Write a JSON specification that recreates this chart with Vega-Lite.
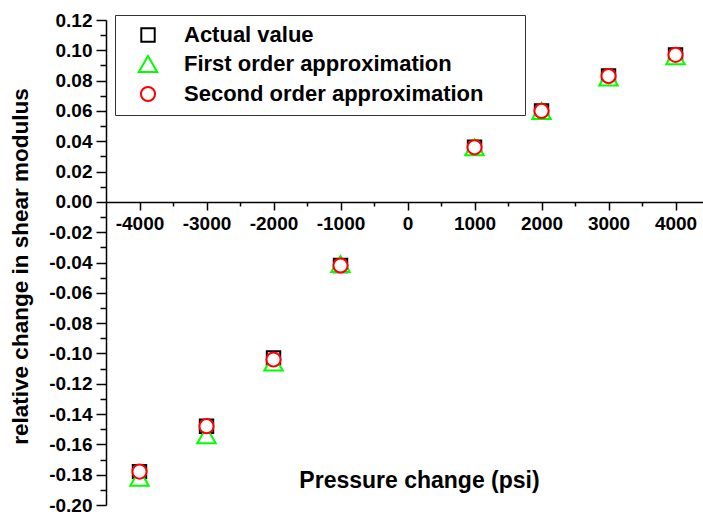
{
  "$schema": "https://vega.github.io/schema/vega-lite/v6.json",
  "width": 597,
  "height": 485,
  "autosize": "none",
  "padding": {"left": 106, "top": 20, "right": 0, "bottom": 11},
  "config": {
    "view": {"stroke": null},
    "font": "Liberation Sans",
    "locale": {"number": {"decimal": ".", "thousands": ",", "grouping": [3], "currency": ["$", ""], "minus": "-"}}
  },
  "data": {
    "values": [
      {"pressure": -4000, "series": "Actual value", "value": -0.178},
      {"pressure": -3000, "series": "Actual value", "value": -0.148},
      {"pressure": -2000, "series": "Actual value", "value": -0.103},
      {"pressure": -1000, "series": "Actual value", "value": -0.042},
      {"pressure": 1000, "series": "Actual value", "value": 0.036},
      {"pressure": 2000, "series": "Actual value", "value": 0.060},
      {"pressure": 3000, "series": "Actual value", "value": 0.083},
      {"pressure": 4000, "series": "Actual value", "value": 0.097},
      {"pressure": -4000, "series": "First order approximation", "value": -0.182},
      {"pressure": -3000, "series": "First order approximation", "value": -0.154},
      {"pressure": -2000, "series": "First order approximation", "value": -0.106},
      {"pressure": -1000, "series": "First order approximation", "value": -0.041},
      {"pressure": 1000, "series": "First order approximation", "value": 0.036},
      {"pressure": 2000, "series": "First order approximation", "value": 0.060},
      {"pressure": 3000, "series": "First order approximation", "value": 0.082},
      {"pressure": 4000, "series": "First order approximation", "value": 0.096},
      {"pressure": -4000, "series": "Second order approximation", "value": -0.178},
      {"pressure": -3000, "series": "Second order approximation", "value": -0.148},
      {"pressure": -2000, "series": "Second order approximation", "value": -0.104},
      {"pressure": -1000, "series": "Second order approximation", "value": -0.042},
      {"pressure": 1000, "series": "Second order approximation", "value": 0.036},
      {"pressure": 2000, "series": "Second order approximation", "value": 0.060},
      {"pressure": 3000, "series": "Second order approximation", "value": 0.083},
      {"pressure": 4000, "series": "Second order approximation", "value": 0.097}
    ]
  },
  "resolve": {"axis": {"x": "independent", "y": "independent"}},
  "layer": [
    {
      "mark": {"type": "point", "filled": false, "fill": "white", "strokeWidth": 2, "opacity": 1},
      "encoding": {
        "x": {
          "field": "pressure", "type": "quantitative",
          "scale": {"domain": [-4500, 4410], "nice": false, "zero": false},
          "axis": {
            "values": [-4000, -3000, -2000, -1000, 0, 1000, 2000, 3000, 4000],
            "format": "d", "offset": -303, "grid": false,
            "domainColor": "black", "domainWidth": 1.5,
            "tickColor": "black", "tickWidth": 1.5, "tickSize": 8,
            "labelFont": "Liberation Sans", "labelFontSize": 19, "labelFontWeight": "bold", "labelColor": "black",
            "labelPadding": 4, "labelFlush": false, "labelOverlap": false,
            "title": "Pressure change (psi)",
            "titleFont": "Liberation Sans", "titleFontSize": 23, "titleFontWeight": "bold", "titleColor": "black",
            "titleX": 313, "titleY": 285, "titleAlign": "center", "titleBaseline": "alphabetic"
          }
        },
        "y": {
          "field": "value", "type": "quantitative",
          "scale": {"domain": [-0.2, 0.12], "nice": false, "zero": false},
          "axis": {
            "values": [-0.2, -0.18, -0.16, -0.14, -0.12, -0.1, -0.08, -0.06, -0.04, -0.02, 0, 0.02, 0.04, 0.06, 0.08, 0.1, 0.12],
            "format": ".2f", "orient": "left", "grid": false,
            "domainColor": "black", "domainWidth": 1.5,
            "tickColor": "black", "tickWidth": 1.5, "tickSize": 10,
            "labelFont": "Liberation Sans", "labelFontSize": 19, "labelFontWeight": "bold", "labelColor": "black",
            "labelPadding": 4, "labelFlush": false, "labelOverlap": false,
            "title": "relative change in shear modulus",
            "titleFont": "Liberation Sans", "titleFontSize": 22.5, "titleFontWeight": "bold", "titleColor": "black",
            "titleX": -79, "titleY": 246, "titleAlign": "center", "titleBaseline": "alphabetic", "titleAngle": -90
          }
        },
        "shape": {
          "field": "series", "type": "nominal",
          "scale": {"domain": ["Actual value", "First order approximation", "Second order approximation"], "range": ["square", "triangle-up", "circle"]},
          "legend": {
            "orient": "none", "legendX": 9, "legendY": -5, "title": null,
            "strokeColor": "#333333", "padding": 9,
            "labelFont": "Liberation Sans", "labelFontSize": 22, "labelFontWeight": "bold", "labelColor": "black",
            "labelLimit": 600,
            "symbolOffset": 13, "labelOffset": 25, "rowPadding": 6, "symbolStrokeWidth": 2,
            "labelExpr": "datum.label + '\u2800\u2800'"
          }
        },
        "color": {
          "field": "series", "type": "nominal",
          "scale": {"domain": ["Actual value", "First order approximation", "Second order approximation"], "range": ["black", "#00ff00", "#ff0000"]},
          "legend": {
            "orient": "none", "legendX": 9, "legendY": -5, "title": null,
            "strokeColor": "#333333", "padding": 9,
            "labelFont": "Liberation Sans", "labelFontSize": 22, "labelFontWeight": "bold", "labelColor": "black",
            "labelLimit": 600,
            "symbolOffset": 13, "labelOffset": 25, "rowPadding": 6, "symbolStrokeWidth": 2,
            "labelExpr": "datum.label + '\u2800\u2800'"
          }
        },
        "size": {
          "field": "series", "type": "nominal",
          "scale": {"type": "ordinal", "domain": ["Actual value", "First order approximation", "Second order approximation"], "range": [180, 340, 200]},
          "legend": {
            "orient": "none", "legendX": 9, "legendY": -5, "title": null,
            "strokeColor": "#333333", "padding": 9,
            "labelFont": "Liberation Sans", "labelFontSize": 22, "labelFontWeight": "bold", "labelColor": "black",
            "labelLimit": 600,
            "symbolOffset": 13, "labelOffset": 25, "rowPadding": 6, "symbolStrokeWidth": 2,
            "labelExpr": "datum.label + '\u2800\u2800'"
          }
        }
      }
    },
    {
      "mark": {"type": "point", "opacity": 0},
      "encoding": {
        "x": {
          "field": "pressure", "type": "quantitative",
          "axis": {
            "values": [-3500, -2500, -1500, -500, 500, 1500, 2500, 3500],
            "offset": -303, "orient": "bottom", "grid": false, "domain": false, "labels": false, "title": null,
            "tickColor": "black", "tickWidth": 1.5, "tickSize": 4
          }
        },
        "y": {
          "field": "value", "type": "quantitative",
          "axis": {
            "values": [-0.19, -0.17, -0.15, -0.13, -0.11, -0.09, -0.07, -0.05, -0.03, -0.01, 0.01, 0.03, 0.05, 0.07, 0.09, 0.11],
            "orient": "left", "grid": false, "domain": false, "labels": false, "title": null,
            "tickColor": "black", "tickWidth": 1.5, "tickSize": 6
          }
        }
      }
    }
  ]
}
